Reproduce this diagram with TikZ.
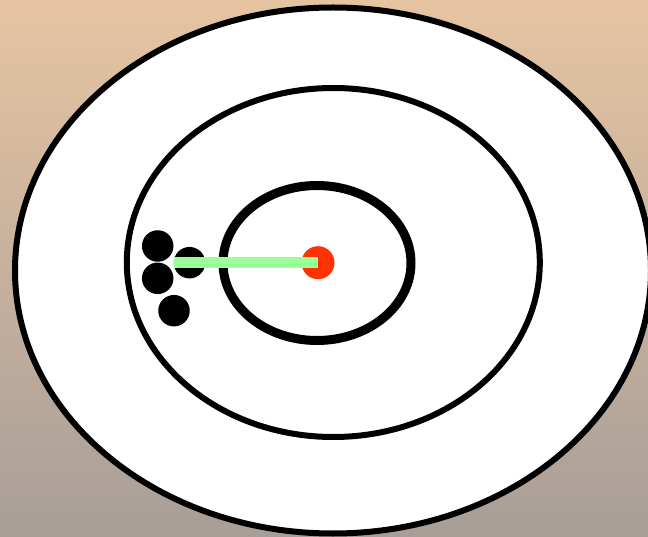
\documentclass[tikz,border=0pt]{standalone}
\usetikzlibrary{shapes.geometric}

\definecolor{bgtop}{HTML}{E6C4A2}
\definecolor{bgbottom}{HTML}{A89E98}
\definecolor{bullred}{HTML}{FF3300}
\definecolor{linegreen}{HTML}{99FF99}

\begin{document}
\begin{tikzpicture}[
    x=1pt, y=-1pt,
    ring/.style={
        ellipse,
        draw=black,
        fill=white,
        line width=6pt,
        inner sep=0pt
    },
    shot/.style={
        circle,
        fill=black,
        inner sep=0pt,
        minimum size=31.5pt
    },
    bull/.style={
        circle,
        fill=bullred,
        inner sep=0pt,
        minimum size=33pt
    },
    offset/.style={
        draw=linegreen,
        line width=11.5pt,
        line cap=butt
    }
]

    % -- Background --
    \useasboundingbox (0,0) rectangle (648,537);
    \clip (0,0) rectangle (648,537);
    \fill[top color=bgtop, bottom color=bgbottom] (0,0) rectangle (648,537);

    % -- Target rings --
    \node[ring, minimum width=636pt, minimum height=526pt] (outer) at (333,270.5) {};
    \node[ring, minimum width=413pt, minimum height=349pt] (middle) at (333.3,262.5) {};
    \node[ring, line width=9pt, minimum width=188pt, minimum height=155pt] (inner) at (317,263) {};

    % Aim point
    \node[bull] (aim) at (318,262.7) {};

    % -- Shots --
    \node[shot] (s1) at (157.7,246) {};
    \node[shot] (s2) at (189.5,262.7) {};
    \node[shot] (s3) at (157.7,278.3) {};
    \node[shot] (s4) at (174,310.7) {};

    % Offset from group to aim point
    \draw[offset] (s2.west) -- (aim.center);

\end{tikzpicture}
\end{document}
